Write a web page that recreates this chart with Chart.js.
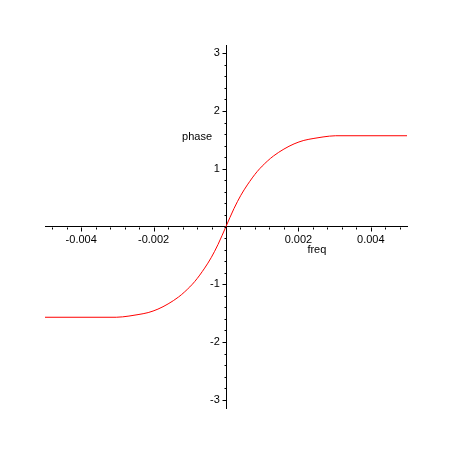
<!DOCTYPE html>
<html>
<head>
<meta charset="utf-8">
<script src="https://cdn.jsdelivr.net/npm/chart.js@4/dist/chart.umd.min.js"></script>
<style>
  html, body { margin: 0; padding: 0; background: #fff; }
  #wrap { width: 453px; height: 453px; }
</style>
</head>
<body>
<div id="wrap"><canvas id="phaseChart" width="453" height="453"></canvas></div>
<script>
// Curva de fase
const FREQ = [
  -0.005, -0.00303, -0.00268, -0.00243, -0.00215, -0.00188, -0.0016, -0.00131,
  -0.00114, -0.00086, -0.00059, -0.00041, -0.00022, 0,
  0.00022, 0.00041, 0.00059, 0.00086, 0.00114, 0.00131, 0.0016, 0.00188,
  0.00215, 0.00243, 0.00268, 0.00303, 0.005,
];
const PHASE = [
  -1.571, -1.571, -1.55, -1.525, -1.49, -1.43, -1.34, -1.22,
  -1.13, -0.95, -0.72, -0.54, -0.31, 0,
  0.31, 0.54, 0.72, 0.95, 1.13, 1.22, 1.34, 1.43,
  1.49, 1.525, 1.55, 1.571, 1.571,
];

const X_LABELS = [-0.004, -0.002, 0.002, 0.004];
const Y_LABELS = [-3, -2, -1, 1, 2, 3];
const X_MINOR_STEP = 0.0004;
const Y_MINOR_STEP = 0.2;

const FONT = "'Liberation Sans', Arial, sans-serif";

function isLabel(list, v) {
  return list.some(l => Math.abs(l - v) < 1e-9);
}

// Marcas de los ejes (mayores y menores) + títulos tipo Maple
const axisDecor = {
  id: 'axisDecor',
  afterDraw(chart) {
    const { ctx, scales: { x, y } } = chart;
    const ax = Math.round(x.getPixelForValue(0)) + 0.5;
    const ay = Math.round(y.getPixelForValue(0)) + 0.5;
    ctx.save();
    ctx.strokeStyle = '#000';
    ctx.lineWidth = 1;
    ctx.beginPath();
    for (let i = -12; i <= 12; i++) {
      const v = i * X_MINOR_STEP;
      const px = Math.round(x.getPixelForValue(v)) + 0.5;
      const len = isLabel(X_LABELS, v) ? 4 : 2;
      ctx.moveTo(px, ay);
      ctx.lineTo(px, ay + len);
    }
    for (let i = -15; i <= 15; i++) {
      const v = i * Y_MINOR_STEP;
      const py = Math.round(y.getPixelForValue(v)) + 0.5;
      const len = isLabel(Y_LABELS, v) ? 4 : 2;
      ctx.moveTo(ax, py);
      ctx.lineTo(ax - len, py);
    }
    ctx.stroke();

    ctx.fillStyle = '#000';
    ctx.font = '11px ' + FONT;
    ctx.textAlign = 'center';
    ctx.textBaseline = 'middle';
    ctx.fillText('freq', x.getPixelForValue(0.00251), y.getPixelForValue(-0.41));
    ctx.fillText('phase', x.getPixelForValue(-0.0008), y.getPixelForValue(1.55));
    ctx.restore();
  },
};

new Chart(document.getElementById('phaseChart'), {
  type: 'line',
  data: {
    datasets: [{
      data: FREQ.map((f, i) => ({ x: f, y: PHASE[i] })),
      borderColor: '#ff0000',
      borderWidth: 1,
      pointRadius: 0,
      cubicInterpolationMode: 'monotone',
      fill: false,
    }],
  },
  options: {
    responsive: false,
    animation: false,
    layout: { padding: { left: 45, right: 46, top: 45, bottom: 45 } },
    plugins: { legend: { display: false }, tooltip: { enabled: false } },
    scales: {
      x: {
        type: 'linear',
        position: { y: 0 },
        min: -0.005, max: 0.005,
        afterBuildTicks: s => { s.ticks = X_LABELS.map(v => ({ value: v })); },
        grid: { display: false, drawTicks: false },
        border: { display: true, color: '#000', width: 1 },
        ticks: {
          color: '#000', padding: 7, maxRotation: 0,
          font: { family: FONT, size: 11 },
          callback: v => String(v),
        },
      },
      y: {
        type: 'linear',
        position: { x: 0 },
        min: -Math.PI, max: Math.PI,
        afterBuildTicks: s => { s.ticks = Y_LABELS.map(v => ({ value: v })); },
        grid: { display: false, drawTicks: false },
        border: { display: true, color: '#000', width: 1 },
        ticks: {
          color: '#000',
          font: { family: FONT, size: 11 },
          // con posición {x: 0} Chart.js ignora el padding: se separa con espacios
          callback: v => String(v) + '  ',
        },
      },
    },
  },
  plugins: [axisDecor],
});
</script>
</body>
</html>
